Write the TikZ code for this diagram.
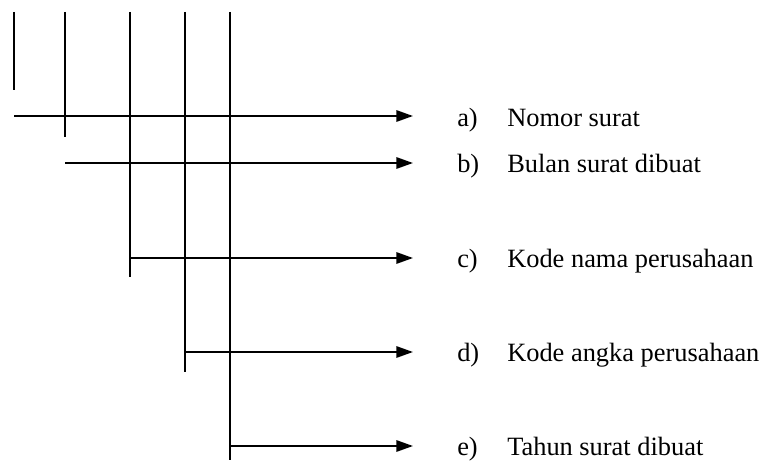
\documentclass[tikz,border=0pt]{standalone}
\usepackage{fontspec}
\setmainfont{Liberation Serif}
\usetikzlibrary{arrows.meta}
\begin{document}
\begin{tikzpicture}[x=0.75pt,y=-0.75pt,
  ln/.style={line width=1.5pt},
  arr/.style={line width=1.5pt,-{Triangle[length=12.5pt,width=8.5pt]}},
  lab/.style={anchor=base west,inner sep=0pt,font=\fontsize{19.8}{23}\selectfont}]
\useasboundingbox (0,0) rectangle (763,460);
% vertical lines
\coordinate (v1t) at (14,12);  \coordinate (v1b) at (14,90);
\coordinate (v2t) at (65,12);  \coordinate (v2b) at (65,137);
\coordinate (v3t) at (130,12); \coordinate (v3b) at (130,277);
\coordinate (v4t) at (185,12); \coordinate (v4b) at (185,372);
\coordinate (v5t) at (230,12); \coordinate (v5b) at (230,460);
\draw[ln] (v1t) -- (v1b);
\draw[ln] (v2t) -- (v2b);
\draw[ln] (v3t) -- (v3b);
\draw[ln] (v4t) -- (v4b);
\draw[ln] (v5t) -- (v5b);
% arrows
\coordinate (sa) at (14,116);  \coordinate (ta) at (413,116);
\coordinate (sb) at (65,163);  \coordinate (tb) at (413,163);
\coordinate (sc) at (130,258); \coordinate (tc) at (413,258);
\coordinate (sd) at (185,352); \coordinate (td) at (413,352);
\coordinate (se) at (230,446); \coordinate (te) at (413,446);
\draw[arr] (sa) -- (ta);
\draw[arr] (sb) -- (tb);
\draw[arr] (sc) -- (tc);
\draw[arr] (sd) -- (td);
\draw[arr] (se) -- (te);
% labels
\node[lab] (la) at (457,126) {a)};  \node[lab] (ta1) at (507,126) {Nomor surat};
\node[lab] (lb) at (457,172) {b)};  \node[lab] (tb1) at (507,172) {Bulan surat dibuat};
\node[lab] (lc) at (457,267) {c)};  \node[lab] (tc1) at (507,267) {Kode nama perusahaan};
\node[lab] (ld) at (457,361) {d)};  \node[lab] (td1) at (507,361) {Kode angka perusahaan};
\node[lab] (le) at (457,455) {e)};  \node[lab] (te1) at (507,455) {Tahun surat dibuat};
\end{tikzpicture}
\end{document}
